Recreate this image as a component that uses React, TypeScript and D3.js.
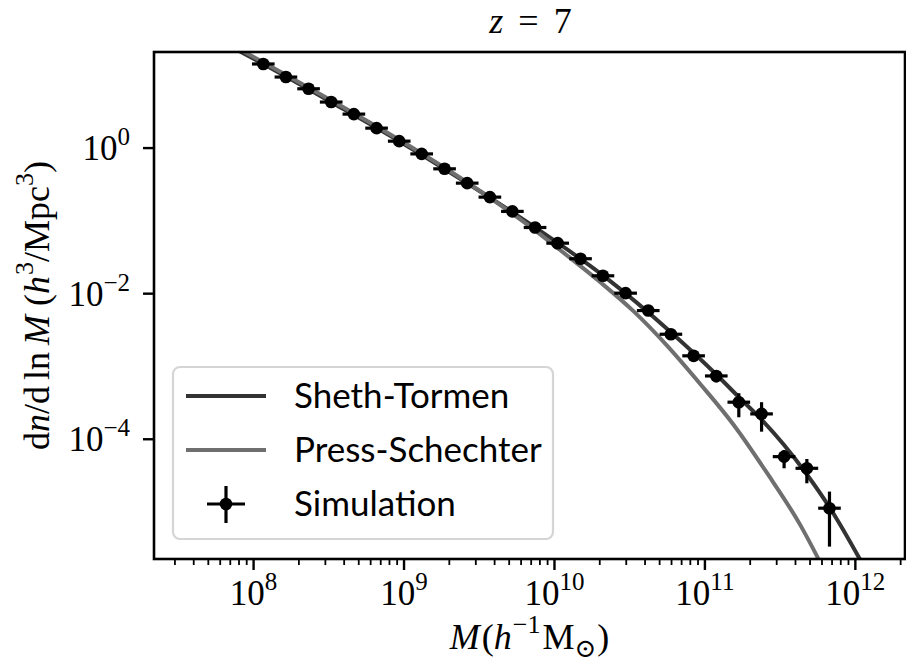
import React from "react";
import * as d3 from "d3";

// ---------- data ----------
const simMass = [
  1.16e8, 1.64e8, 2.32e8, 3.28e8, 4.64e8, 6.57e8, 9.29e8, 1.31e9, 1.86e9, 2.63e9,
  3.72e9, 5.25e9, 7.43e9, 1.05e10, 1.49e10, 2.1e10, 2.97e10, 4.2e10, 5.94e10, 8.41e10,
  1.19e11, 1.68e11, 2.38e11, 3.36e11, 4.76e11, 6.73e11,
];
const simValue = [
  14.3, 9.46, 6.53, 4.29, 2.93, 1.88, 1.245, 0.832, 0.519, 0.33,
  0.212, 0.135, 0.0811, 0.0494, 0.0302, 0.0176, 0.01016, 0.00586, 0.00277, 0.0014,
  7.41e-4, 3.23e-4, 2.23e-4, 5.77e-5, 3.99e-5, 1.13e-5,
];
// vertical error bars, in dex below / above the value
const simErrLoDex = [
  0.01, 0.01, 0.01, 0.01, 0.01, 0.01, 0.01, 0.01, 0.01, 0.01,
  0.01, 0.015, 0.015, 0.015, 0.015, 0.02, 0.02, 0.03, 0.04, 0.06,
  0.09, 0.207, 0.244, 0.16, 0.206, 0.528,
];
const simErrHiDex = [
  0.01, 0.01, 0.01, 0.01, 0.01, 0.01, 0.01, 0.01, 0.01, 0.01,
  0.01, 0.015, 0.015, 0.015, 0.015, 0.02, 0.02, 0.03, 0.035, 0.055,
  0.08, 0.123, 0.161, 0.092, 0.128, 0.228,
];
// mass bins are sqrt(2) wide
const binRatio = Math.SQRT2;

const stMass = [
  5.01e7, 1.16e8, 3.29e8, 9.29e8, 2.62e9, 7.43e9, 2.1e10, 5.94e10, 1.19e11, 1.68e11,
  2.38e11, 3.36e11, 4.75e11, 6.71e11, 1.07e12, 1.58e12,
];
const stValue = [
  36.3, 14.3, 4.27, 1.245, 0.331, 0.0813, 0.0178, 0.00295, 7.76e-4, 3.8e-4,
  1.86e-4, 8.32e-5, 3.31e-5, 1.175e-5, 2.26e-6, 5.0e-7,
];
const psMass = [
  5.01e7, 1.16e8, 3.29e8, 9.29e8, 2.62e9, 7.43e9, 1.09e10, 2.01e10, 3.35e10, 5.58e10,
  9.31e10, 1.55e11, 2.58e11, 4.31e11, 5.69e11, 7.94e11,
];
const psValue = [
  38.9, 15.1, 4.52, 1.3, 0.339, 0.0741, 0.0398, 0.01445, 0.00575, 0.00195,
  5.75e-4, 1.585e-4, 3.47e-5, 6.61e-6, 2.26e-6, 5.6e-7,
];

const xMajorTicks = [1e8, 1e9, 1e10, 1e11, 1e12];
const xTickExps = ["8", "9", "10", "11", "12"];
const yMajorTicks = [1, 1e-2, 1e-4];
const yTickExps = ["0", "\u22122", "\u22124"];

const legendLabels = ["Sheth-Tormen", "Press-Schechter", "Simulation"];

// ---------- layout ----------
const W = 906;
const H = 664;
const L = 154;
const R = 905;
const T = 52;
const B = 559;

const ST_COLOR = "#333333";
const PS_COLOR = "#6f6f6f";
const SERIF = "'Liberation Serif', 'DejaVu Serif', serif";
const SANS = "Lato, 'Open Sans', 'DejaVu Sans', sans-serif";

export default function App() {
  const x = d3.scaleLog().domain([Math.pow(10, 7.338), Math.pow(10, 12.33)]).range([L, R]);
  const y = d3.scaleLog().domain([Math.pow(10, -5.645), Math.pow(10, 1.32)]).range([B, T]);

  const line = d3
    .line<[number, number]>()
    .x((d) => x(d[0]))
    .y((d) => y(d[1]))
    .curve(d3.curveMonotoneX);

  const stPath = line(stMass.map((m, i) => [m, stValue[i]] as [number, number])) || "";
  const psPath = line(psMass.map((m, i) => [m, psValue[i]] as [number, number])) || "";

  // minor ticks
  const minor: number[] = [];
  for (let e = 7; e <= 12; e++) {
    for (let k = 2; k <= 9; k++) {
      const v = k * Math.pow(10, e);
      if (v >= x.domain()[0] && v <= x.domain()[1]) minor.push(v);
    }
  }

  const fs = 35;
  const sup = 25;
  const lfs = 36;
  const lsup = 26;

  const legX = 173;
  const legY = 367;
  const legW = 380;
  const legH = 172;
  const rowY = [396, 450, 504];

  return (
    <svg
      width={W}
      height={H}
      viewBox={`0 0 ${W} ${H}`}
      style={{ position: "absolute", left: 0, top: 0, display: "block", background: "#fff" }}
    >
      <defs>
        <clipPath id="plotclip">
          <rect x={L} y={T} width={R - L} height={B - T} />
        </clipPath>
      </defs>
      <rect x={0} y={0} width={W} height={H} fill="#fff" />

      {/* curves */}
      <g clipPath="url(#plotclip)">
        <path d={stPath} fill="none" stroke={ST_COLOR} strokeWidth={4} />
        <path d={psPath} fill="none" stroke={PS_COLOR} strokeWidth={4} />
        {/* simulation points */}
        {simMass.map((m, i) => {
          const cx = x(m);
          const cy = y(simValue[i]);
          const x0 = x(m / Math.sqrt(binRatio));
          const x1 = x(m * Math.sqrt(binRatio));
          const y0 = y(simValue[i] * Math.pow(10, -simErrLoDex[i]));
          const y1 = y(simValue[i] * Math.pow(10, simErrHiDex[i]));
          return (
            <g key={i}>
              <line x1={x0} x2={x1} y1={cy} y2={cy} stroke="#000" strokeWidth={3.2} />
              <line x1={cx} x2={cx} y1={y0} y2={y1} stroke="#000" strokeWidth={3.2} />
              <circle cx={cx} cy={cy} r={6.3} fill="#000" />
            </g>
          );
        })}
      </g>

      {/* spines */}
      <rect x={L} y={T} width={R - L} height={B - T} fill="none" stroke="#000" strokeWidth={2.6} />

      {/* x ticks */}
      {minor.map((v, i) => (
        <line key={"mn" + i} x1={x(v)} x2={x(v)} y1={B} y2={B + 6} stroke="#000" strokeWidth={1.8} />
      ))}
      {xMajorTicks.map((v, i) => (
        <g key={"xt" + i}>
          <line x1={x(v)} x2={x(v)} y1={B} y2={B + 11} stroke="#000" strokeWidth={2.4} />
          <text x={x(v)} y={605} textAnchor="middle" fontFamily={SERIF} fontSize={fs} fill="#000">
            <tspan>10</tspan>
            <tspan fontSize={sup} dy={-15}>{xTickExps[i]}</tspan>
          </text>
        </g>
      ))}

      {/* y ticks */}
      {yMajorTicks.map((v, i) => (
        <g key={"yt" + i}>
          <line x1={L - 11} x2={L} y1={y(v)} y2={y(v)} stroke="#000" strokeWidth={2.4} />
          <text x={130} y={y(v) + 12} textAnchor="end" fontFamily={SERIF} fontSize={fs} fill="#000">
            <tspan>10</tspan>
            <tspan fontSize={sup} dy={-15}>{yTickExps[i]}</tspan>
          </text>
        </g>
      ))}

      {/* title */}
      <text x={(L + R) / 2 + 1} y={33} textAnchor="middle" fontFamily={SERIF} fontSize={36} fill="#000">
        <tspan fontStyle="italic">z</tspan>
        <tspan dx={15}>=</tspan>
        <tspan dx={15}>7</tspan>
      </text>

      {/* x label */}
      <text x={(L + R) / 2} y={649} textAnchor="middle" fontFamily={SERIF} fontSize={lfs} fill="#000">
        <tspan fontStyle="italic">M</tspan>
        <tspan dx={2}>(</tspan>
        <tspan fontStyle="italic">h</tspan>
        <tspan fontSize={lsup} dy={-16} dx={1}>{"\u22121"}</tspan>
        <tspan dy={16} dx={2}>M</tspan>
        <tspan fontSize={lsup} dy={8}>{"\u2299"}</tspan>
        <tspan dy={-8} dx={1}>)</tspan>
      </text>

      {/* y label */}
      <text
        transform={`translate(49, ${(T + B) / 2}) rotate(-90)`}
        textAnchor="middle"
        fontFamily={SERIF}
        fontSize={lfs}
        fill="#000"
      >
        <tspan>d</tspan>
        <tspan fontStyle="italic">n</tspan>
        <tspan>/d</tspan>
        <tspan dx={6}>ln</tspan>
        <tspan dx={7} fontStyle="italic">M</tspan>
        <tspan dx={9}>(</tspan>
        <tspan fontStyle="italic">h</tspan>
        <tspan fontSize={lsup} dy={-16} dx={1}>3</tspan>
        <tspan dy={16}>/Mpc</tspan>
        <tspan fontSize={lsup} dy={-16}>3</tspan>
        <tspan dy={16}>)</tspan>
      </text>

      {/* legend */}
      <rect
        x={legX}
        y={legY}
        width={legW}
        height={legH}
        rx={7}
        fill="#fff"
        fillOpacity={0.8}
        stroke="#d5d5d5"
        strokeWidth={2.2}
      />
      <line x1={186} x2={266} y1={rowY[0]} y2={rowY[0]} stroke={ST_COLOR} strokeWidth={4} />
      <line x1={186} x2={266} y1={rowY[1]} y2={rowY[1]} stroke={PS_COLOR} strokeWidth={4} />
      <line x1={207} x2={245} y1={rowY[2]} y2={rowY[2]} stroke="#000" strokeWidth={3.2} />
      <line x1={226} x2={226} y1={rowY[2] - 18} y2={rowY[2] + 19} stroke="#000" strokeWidth={3.2} />
      <circle cx={226} cy={rowY[2]} r={6.3} fill="#000" />
      {legendLabels.map((t, i) => (
        <text key={t} x={294} y={rowY[i] + 12} fontFamily={SANS} fontSize={35} fill="#000">
          {t}
        </text>
      ))}
    </svg>
  );
}
